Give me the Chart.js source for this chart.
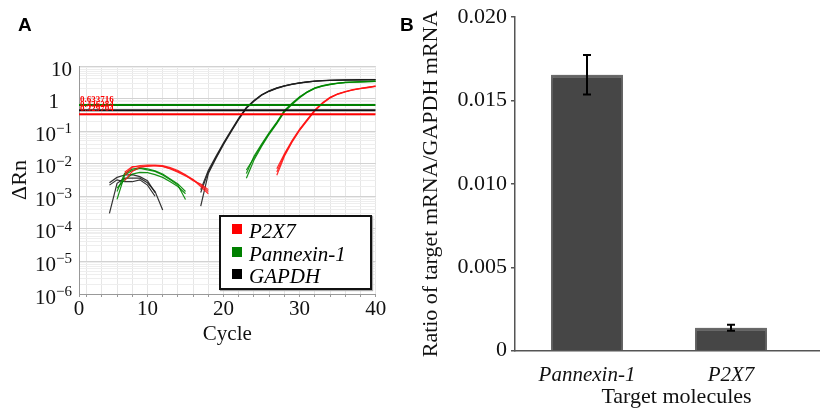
<!DOCTYPE html>
<html lang="en">
<head>
<meta charset="UTF-8">
<title>Amplification plot and target mRNA ratio</title>
<script src="https://cdn.jsdelivr.net/npm/chart.js"></script>
<style>
  html, body { margin: 0; padding: 0; background: #fff; }
  body { width: 820px; height: 409px; position: relative; overflow: hidden; }
  canvas { position: absolute; top: 0; }
  #chartA { left: 0; }
  #chartB { left: 400px; }
  .letter { position: absolute; top: 15px; font: bold 19px 'Liberation Sans', Arial, sans-serif; line-height: 19px; color: #000; }
  .legend {
    position: absolute; left: 219px; top: 215px; width: 153px; height: 75px;
    box-sizing: border-box; border: 2px solid #111; background: #fff;
    box-shadow: 1px 1px 1px #aaa; padding-top: 3px;
    font: italic 21px 'Liberation Serif', 'Times New Roman', serif; color: #000;
  }
  .legend div { height: 22.5px; line-height: 22.5px; display: flex; align-items: center; }
  .legend span.box { width: 10px; height: 10px; margin: 0 7px 0 11px; transform: translateY(-2px); }
</style>
</head>
<body>
<canvas id="chartA" width="400" height="409"></canvas>
<canvas id="chartB" width="438" height="409"></canvas>
<div class="letter" style="left:18px">A</div>
<div class="letter" style="left:400px">B</div>
<div class="legend">
  <div><span class="box" style="background:#ff0000"></span>P2X7</div>
  <div><span class="box" style="background:#008000"></span>Pannexin-1</div>
  <div><span class="box" style="background:#000"></span>GAPDH</div>
</div>

<script>
// ---- Panel A: amplification curves (delta Rn per cycle, 3 wells per gene) ----
const cycleTickValues = [1, 10, 20, 30, 40];
const cycleTickLabels = ['0', '10', '20', '30', '40'];
const decadeExponents = [-6, -5, -4, -3, -2, -1, 0, 1];
const dRnTickBase = ['10', '10', '10', '10', '10', '10', '1', '10'];
const dRnTickExp = ['−6', '−5', '−4', '−3', '−2', '−1', '', ''];

// background noise part of each well, before the gap where dRn <= 0
const gapdhEarlyStart = [5, 5, 5];
const gapdhEarly = [
  [3.0e-4, 2.5e-3, 3.6e-3, 3.6e-3, 3.6e-3, 2.6e-3, 1.4e-3, 3.8e-4],
  [2.2e-3, 3.2e-3, 2.8e-3, 2.8e-3, 3.2e-3, 2.2e-3, 1.0e-3],
  [2.6e-3, 3.8e-3, 4.5e-3, 4.6e-3, 4.0e-3, 3.0e-3, 1.3e-3]
];
const pannexinEarlyStart = [6, 6, 6];
const pannexinEarly = [
  [8.0e-4, 4.5e-3, 6.2e-3, 7.2e-3, 6.5e-3, 5.8e-3, 4.5e-3, 3.2e-3, 2.2e-3, 8.0e-4],
  [1.4e-3, 5.0e-3, 6.8e-3, 7.4e-3, 7.0e-3, 6.0e-3, 4.8e-3, 3.4e-3, 2.4e-3, 1.4e-3],
  [1.8e-3, 3.2e-3, 4.8e-3, 5.4e-3, 5.3e-3, 4.6e-3, 3.8e-3, 2.8e-3, 2.0e-3, 1.2e-3]
];
const p2x7EarlyStart = [7, 7, 7];
const p2x7Early = [
  [4.6e-3, 7.8e-3, 8.8e-3, 9.1e-3, 9.1e-3, 8.7e-3, 7.6e-3, 6.2e-3, 4.6e-3, 3.3e-3, 2.2e-3, 1.4e-3],
  [3.0e-3, 5.8e-3, 7.8e-3, 8.6e-3, 8.6e-3, 8.3e-3, 7.2e-3, 5.8e-3, 4.4e-3, 3.0e-3, 2.4e-3, 1.6e-3],
  [5.5e-3, 8.2e-3, 8.0e-3, 8.3e-3, 8.8e-3, 8.2e-3, 6.9e-3, 5.5e-3, 4.2e-3, 3.2e-3, 2.0e-3, 1.2e-3]
];

// amplification part
const gapdhAmpStart = [17, 17, 17];
const gapdhAmp = [
  [5.0e-4, 0.0050, 0.0145, 0.039, 0.097, 0.23, 0.50, 0.83, 1.26, 1.67, 2.06, 2.42, 2.72, 2.99, 3.21, 3.40, 3.52, 3.61, 3.65, 3.70, 3.72, 3.75, 3.76, 3.78],
  [1.3e-3, 0.0056, 0.0155, 0.041, 0.100, 0.24, 0.52, 0.85, 1.29, 1.70, 2.09, 2.45, 2.75, 3.02, 3.24, 3.43, 3.55, 3.63, 3.67, 3.72, 3.74, 3.77, 3.78, 3.80],
  [1.6e-3, 0.0063, 0.0170, 0.044, 0.106, 0.25, 0.54, 0.88, 1.32, 1.73, 2.12, 2.48, 2.78, 3.05, 3.27, 3.45, 3.57, 3.65, 3.69, 3.74, 3.76, 3.79, 3.80, 3.82]
];
const pannexinAmpStart = [23, 23, 23];
const pannexinAmp = [
  [0.0036, 0.013, 0.034, 0.080, 0.17, 0.39, 0.66, 1.06, 1.55, 2.04, 2.40, 2.68, 2.91, 3.09, 3.17, 3.24, 3.30, 3.36],
  [0.0064, 0.015, 0.037, 0.085, 0.18, 0.41, 0.69, 1.10, 1.59, 2.09, 2.45, 2.72, 2.95, 3.13, 3.20, 3.27, 3.33, 3.39],
  [0.0050, 0.017, 0.040, 0.090, 0.19, 0.43, 0.72, 1.14, 1.63, 2.13, 2.49, 2.76, 2.98, 3.16, 3.23, 3.30, 3.36, 3.42]
];
const p2x7AmpStart = [27, 27, 27];
const p2x7Amp = [
  [0.0044, 0.017, 0.046, 0.105, 0.21, 0.42, 0.70, 1.04, 1.35, 1.59, 1.83, 2.01, 2.18, 2.36],
  [0.0056, 0.0186, 0.048, 0.110, 0.22, 0.43, 0.72, 1.07, 1.38, 1.62, 1.86, 2.04, 2.21, 2.40],
  [0.0070, 0.020, 0.051, 0.116, 0.23, 0.45, 0.75, 1.10, 1.41, 1.65, 1.89, 2.07, 2.24, 2.43]
];

// threshold lines: Pannexin-1, GAPDH, P2X7
const thresholds = [0.633716, 0.436284, 0.329704];
const thresholdColors = ['#008000', '#111111', '#ff0000'];

// ---- Panel B: ratio of target mRNA / GAPDH mRNA ----
const targets = ['Pannexin-1', 'P2X7'];
const ratios = [0.01655, 0.00138];
const ratioErrors = [0.00118, 0.00018];
const ratioTicks = [0, 0.005, 0.010, 0.015, 0.020];

Chart.defaults.font.family = "'Liberation Serif', 'Times New Roman', serif";
Chart.defaults.color = '#111';
const SERIF = '"Liberation Serif", "Times New Roman", serif';

const RED = 'rgba(255,20,20,0.9)', GREEN = 'rgba(0,135,0,0.9)', BLACK = 'rgba(30,30,30,0.9)';

function wells(runs, starts, color) {
  return runs.map((vals, i) => ({
    data: vals.map((v, j) => ({ x: starts[i] + j, y: v })),
    borderColor: color,
    borderWidth: 1.2,
    pointRadius: 0,
    tension: 0,
    fill: false
  }));
}

const thresholdSets = thresholds.map((t, i) => ({
  data: [{ x: 1, y: t }, { x: 40, y: t }],
  borderColor: thresholdColors[i],
  borderWidth: 2,
  pointRadius: 0,
  fill: false
}));

const isDecade = v => Math.abs(Math.log10(v) - Math.round(Math.log10(v))) < 1e-6;

const thresholdLabels = {
  id: 'thresholdLabels',
  afterDatasetsDraw(chart) {
    const { ctx, chartArea, scales: { y } } = chart;
    ctx.save();
    ctx.font = 'bold 9px ' + SERIF;
    ctx.fillStyle = '#ff0000';
    ctx.textBaseline = 'bottom';
    thresholds.forEach(t => ctx.fillText(t.toFixed(6), chartArea.left + 1, y.getPixelForValue(t) - 1));
    ctx.restore();
  }
};

// log axis labels with real superscripts (10 and a raised exponent)
const decadeLabels = {
  id: 'decadeLabels',
  afterDraw(chart) {
    const { ctx, scales: { y } } = chart;
    const right = y.right - 7;
    ctx.save();
    ctx.fillStyle = '#111';
    ctx.textAlign = 'right';
    ctx.textBaseline = 'alphabetic';
    decadeExponents.forEach((e, i) => {
      const py = y.getPixelForValue(Math.pow(10, e));
      const exp = dRnTickExp[i];
      let w = 0;
      if (exp) {
        ctx.font = '15px ' + SERIF;
        w = ctx.measureText(exp).width;
        ctx.fillText(exp, right, py + 2);
      }
      ctx.font = '21px ' + SERIF;
      const x = e === 0 ? right - 13 : right - w;
      ctx.fillText(dRnTickBase[i], x, py + 9.5);
    });
    ctx.restore();
  }
};

new Chart(document.getElementById('chartA'), {
  type: 'line',
  data: {
    datasets: [
      ...thresholdSets,
      ...wells(p2x7Early, p2x7EarlyStart, RED),
      ...wells(p2x7Amp, p2x7AmpStart, RED),
      ...wells(pannexinEarly, pannexinEarlyStart, GREEN),
      ...wells(pannexinAmp, pannexinAmpStart, GREEN),
      ...wells(gapdhEarly, gapdhEarlyStart, BLACK),
      ...wells(gapdhAmp, gapdhAmpStart, BLACK)
    ]
  },
  options: {
    responsive: false,
    animation: false,
    devicePixelRatio: 1,
    layout: { padding: { top: 66, right: 24.3, bottom: 62.4, left: 0 } },
    plugins: { legend: { display: false }, tooltip: { enabled: false } },
    scales: {
      x: {
        type: 'linear',
        min: 1,
        max: 40,
        afterBuildTicks(scale) {
          const t = [{ value: 1 }];
          for (let c = 2; c <= 40; c += 2) t.push({ value: c });
          scale.ticks = t;
        },
        afterFit(scale) { scale.height = 52.6; },
        ticks: {
          autoSkip: false,
          maxRotation: 0,
          padding: 0,
          font: { size: 21 },
          callback: v => {
            const i = cycleTickValues.indexOf(v);
            return i >= 0 ? cycleTickLabels[i] : '';
          }
        },
        grid: { color: '#e6e6e6', tickColor: '#999', tickLength: 3 },
        border: { color: '#999', width: 1 },
        title: { display: true, text: 'Cycle', font: { size: 21 }, padding: 0 }
      },
      y: {
        type: 'logarithmic',
        min: 1e-6,
        max: 10,
        afterBuildTicks(scale) {
          const t = [];
          decadeExponents.forEach(e => {
            const top = e === 1 ? 1 : 9;
            for (let k = 1; k <= top; k++) t.push({ value: k * Math.pow(10, e) });
          });
          scale.ticks = t;
        },
        afterFit(scale) { scale.width = 79; },
        ticks: { display: false, autoSkip: false },
        grid: {
          drawTicks: false,
          color: ctx => (ctx.tick && isDecade(ctx.tick.value)) ? '#d2d2d2' : '#eeeeee'
        },
        border: { color: '#999', width: 1 },
        title: { display: true, text: 'ΔRn', font: { size: 22 }, padding: { top: 6.8, bottom: 0 } }
      }
    }
  },
  plugins: [thresholdLabels, decadeLabels]
});

const errorBars = {
  id: 'errorBars',
  afterDatasetsDraw(chart) {
    const { ctx, scales: { x, y } } = chart;
    ctx.save();
    ctx.strokeStyle = '#000';
    ctx.lineWidth = 2;
    ratios.forEach((v, i) => {
      const px = x.getPixelForValue(i);
      const top = y.getPixelForValue(v + ratioErrors[i]);
      const bot = y.getPixelForValue(v - ratioErrors[i]);
      ctx.beginPath();
      ctx.moveTo(px, top); ctx.lineTo(px, bot);
      ctx.moveTo(px - 4, top); ctx.lineTo(px + 4, top);
      ctx.moveTo(px - 4, bot); ctx.lineTo(px + 4, bot);
      ctx.stroke();
    });
    ctx.restore();
  }
};

const barShadow = {
  id: 'barShadow',
  beforeDatasetDraw(chart) {
    const ctx = chart.ctx;
    ctx.save();
    ctx.shadowColor = 'rgba(0,0,0,0.35)';
    ctx.shadowBlur = 4;
  },
  afterDatasetDraw(chart) { chart.ctx.restore(); }
};

// x axis is linear so the axis runs on past the right edge like the original
new Chart(document.getElementById('chartB'), {
  type: 'bar',
  data: {
    datasets: [{
      data: ratios.map((v, i) => ({ x: i, y: v })),
      backgroundColor: '#464646',
      borderColor: '#6e6e6e',
      borderWidth: { top: 3, left: 2, right: 2, bottom: 0 },
      borderSkipped: false,
      barPercentage: 0.5,
      categoryPercentage: 1
    }]
  },
  options: {
    responsive: false,
    animation: false,
    devicePixelRatio: 1,
    layout: { padding: { top: 16.7, right: 0, bottom: 0, left: 0 } },
    plugins: { legend: { display: false }, tooltip: { enabled: false } },
    scales: {
      x: {
        type: 'linear',
        offset: false,
        min: -0.5,
        max: 1.743,
        afterBuildTicks(scale) { scale.ticks = targets.map((_, i) => ({ value: i })); },
        afterFit(scale) { scale.height = 58.3; },
        ticks: {
          autoSkip: false,
          maxRotation: 0,
          padding: 4,
          font: { size: 21, style: 'italic' },
          callback: v => targets[v] ?? ''
        },
        grid: { display: false },
        border: { color: '#555', width: 1.5 },
        title: { display: true, text: 'Target molecules', font: { size: 22, lineHeight: 1.1 }, padding: 0 }
      },
      y: {
        min: 0,
        max: 0.02,
        afterBuildTicks(scale) { scale.ticks = ratioTicks.map(v => ({ value: v })); },
        afterFit(scale) { scale.width = 115; },
        ticks: {
          padding: 4,
          font: { size: 22 },
          callback: v => v === 0 ? '0' : v.toFixed(3)
        },
        grid: { drawOnChartArea: false, drawTicks: true, tickLength: 4, color: '#555', lineWidth: 1.5 },
        border: { color: '#555', width: 1.5 },
        title: { display: true, text: 'Ratio of target mRNA/GAPDH mRNA', font: { size: 22 }, padding: { top: 18.5, bottom: 0 } }
      }
    }
  },
  plugins: [barShadow, errorBars]
});
</script>
</body>
</html>
